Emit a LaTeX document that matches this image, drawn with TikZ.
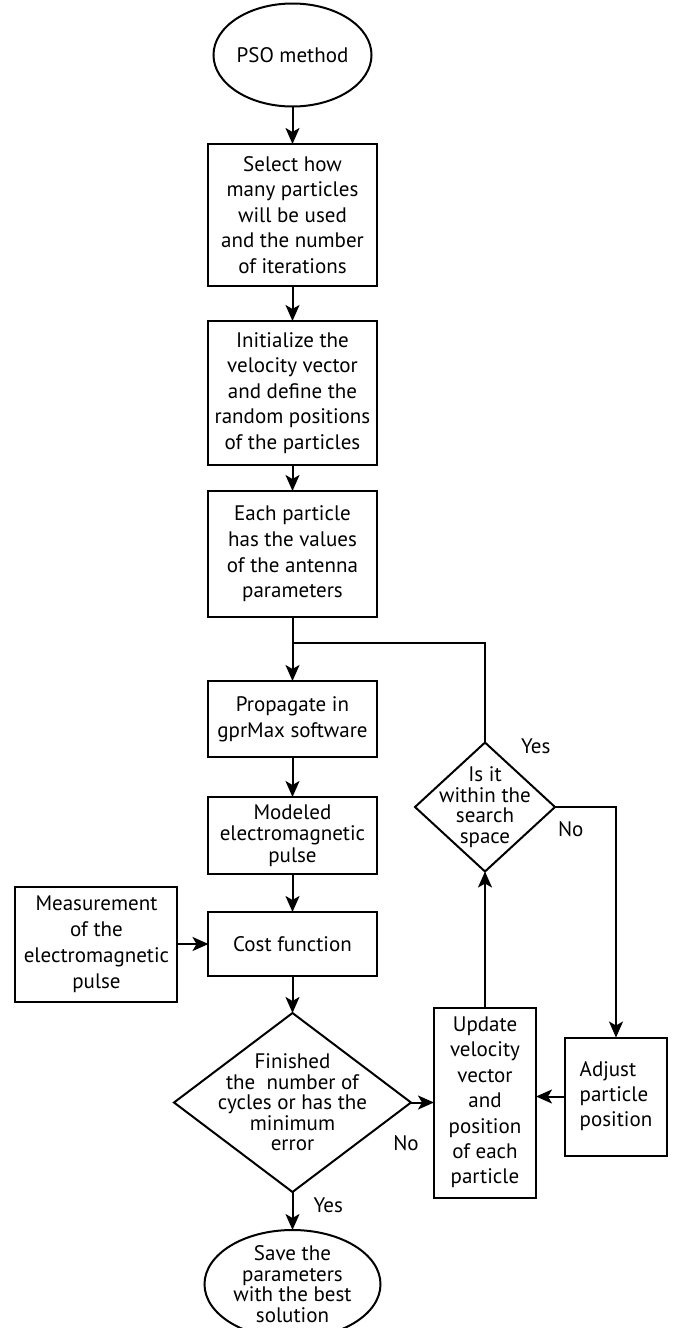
\documentclass[tikz,border=0pt]{standalone}
\usepackage{fontspec}
\setmainfont{PT Sans}
\usepackage{tikz}
\usetikzlibrary{arrows.meta,positioning,shapes.geometric}

\begin{document}
\begin{tikzpicture}[
line width=1pt,
psoterm/.style={draw, ellipse, align=center, inner sep=0pt, outer sep=0pt,
font=\fontsize{10.5}{10.25}\selectfont},
psobox/.style={draw, align=center, minimum width=84pt, inner sep=0pt,
outer sep=0pt, font=\fontsize{10.5}{12.8}\selectfont},
psodec/.style={draw, diamond, align=center, inner sep=-14pt, outer sep=0pt,
font=\fontsize{10.5}{10.25}\selectfont},
psoarrow/.style={-{Stealth[length=8pt, width=7pt, inset=2pt]}},
psolbl/.style={inner sep=0pt, font=\fontsize{10.5}{12.8}\selectfont}
]
\useasboundingbox (-146.25pt,27.5pt) rectangle (190.75pt,-636.5pt);

\node[psoterm, minimum width=77pt, minimum height=51.5pt] (start) {PSO method};
\node[psobox, minimum height=71pt, below=18.75pt of start] (select) {Select how\\many particles\\will be used\\and the number\\of iterations};
\node[psobox, minimum height=72pt, below=17.5pt of select] (init) {Initialize the\\velocity vector\\and define the\\random positions\\of the particles};
\node[psobox, minimum height=63pt, below=13pt of init] (each) {Each particle\\has the values\\of the antenna\\parameters};
\coordinate[below=13pt of each] (loop);
\node[psobox, minimum height=38pt, below=32pt of each] (gprmax) {Propagate in\\gprMax software};
\node[psobox, minimum height=38.5pt, font=\fontsize{10.5}{10.85}\selectfont, below=20pt of gprmax] (model) {Modeled\\electromagnetic\\pulse};
\node[psobox, minimum height=32pt, below=19pt of model] (cost) {Cost function};
\node[psobox, minimum width=81pt, minimum height=57.5pt, font=\fontsize{10.5}{13}\selectfont, left=15.5pt of cost] (meas) {Measurement\\of the\\electromagnetic\\pulse};
\node[psodec, minimum width=118.5pt, minimum height=89.5pt, below=18.5pt of cost] (finish) {Finished\\the~ number of\\cycles or has the\\minimum\\error};
\node[psoterm, minimum width=88pt, minimum height=48.5pt, below=19pt of finish] (save) {Save the\\parameters\\with the best\\solution};
\node[psobox, minimum width=51pt, minimum height=95pt, font=\fontsize{10.5}{12.7}\selectfont, right=11.5pt of finish] (update) {Update\\velocity\\vector\\and\\position\\of each\\particle};
\node[psobox, minimum width=51pt, minimum height=59pt, align=left, font=\fontsize{10.5}{12.5}\selectfont, right=14.5pt of update, yshift=3pt] (adjust) {Adjust\\particle\\position};
\node[psodec, minimum width=70pt, minimum height=64.5pt, above=68pt of update] (space) {Is it\\within the\\search\\space};

\draw[psoarrow] (start) -- (select);
\draw[psoarrow] (select) -- (init);
\draw[psoarrow] (init) -- (each);
\draw (each) -- (loop);
\draw[psoarrow] (loop) -- (gprmax);
\draw[psoarrow] (gprmax) -- (model);
\draw[psoarrow] (model) -- (cost);
\draw[psoarrow] (meas) -- (cost);
\draw[psoarrow] (cost) -- (finish);
\draw[psoarrow] (finish) -- node[psolbl, pos=0.35, right=10pt] {Yes} (save);
\draw[psoarrow] (finish) -- node[psolbl, at start, below=16pt, xshift=-2.5pt] {No} (update);
\draw[psoarrow] (adjust.west) -- (adjust.west -| update.east);
\draw[psoarrow] (update) -- (space);
\draw (space) |- node[psolbl, at start, right=17.5pt, yshift=-2pt] {Yes} (loop);
\draw[psoarrow] (space) -| node[psolbl, at start, below right=7pt and 1pt] {No} (adjust);
\end{tikzpicture}
\end{document}
